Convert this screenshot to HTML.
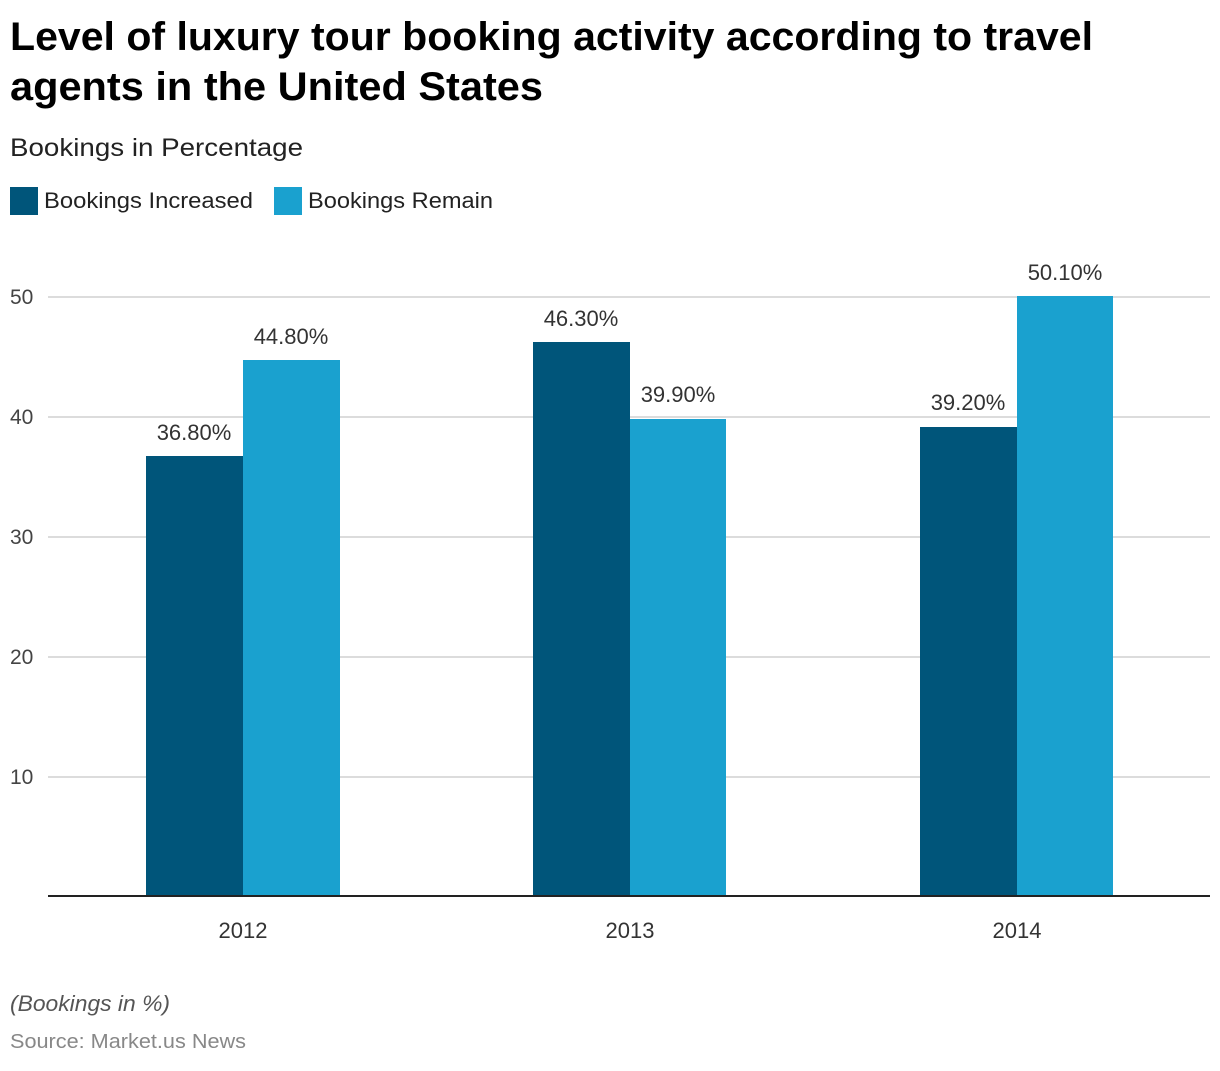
<!DOCTYPE html>
<html><head><meta charset="utf-8"><style>
body{margin:0;background:#fff;width:1220px;height:1066px;overflow:hidden;font-family:"Liberation Sans",sans-serif;}
</style></head><body>
<svg width="1220" height="1066" xmlns="http://www.w3.org/2000/svg" font-family="Liberation Sans, sans-serif">
<text x="10" y="50" font-size="40" font-weight="bold" fill="#000" textLength="1083" lengthAdjust="spacingAndGlyphs">Level of luxury tour booking activity according to travel</text>
<text x="10" y="100" font-size="40" font-weight="bold" fill="#000" textLength="533" lengthAdjust="spacingAndGlyphs">agents in the United States</text>
<text x="10" y="156" font-size="25" fill="#222" textLength="293" lengthAdjust="spacingAndGlyphs">Bookings in Percentage</text>
<rect x="10" y="187" width="28" height="28" fill="#00557a"/>
<text x="44" y="208" font-size="22" fill="#222" textLength="209" lengthAdjust="spacingAndGlyphs">Bookings Increased</text>
<rect x="274" y="187" width="28" height="28" fill="#1aa1cf"/>
<text x="308" y="208" font-size="22" fill="#222" textLength="185" lengthAdjust="spacingAndGlyphs">Bookings Remain</text>
<g stroke="#d0d0d0" stroke-width="1.5">
<line x1="48" x2="1210" y1="297" y2="297"/><line x1="48" x2="1210" y1="417" y2="417"/>
<line x1="48" x2="1210" y1="537" y2="537"/><line x1="48" x2="1210" y1="657" y2="657"/>
<line x1="48" x2="1210" y1="777" y2="777"/></g>
<g font-size="21" fill="#444">
<text x="10" y="304">50</text><text x="10" y="424">40</text><text x="10" y="544">30</text>
<text x="10" y="664">20</text><text x="10" y="784">10</text></g>
<rect x="146" y="456" width="97" height="440" fill="#00557a"/>
<rect x="243" y="360" width="97" height="536" fill="#1aa1cf"/>
<rect x="533" y="342" width="97" height="554" fill="#00557a"/>
<rect x="630" y="419" width="96" height="477" fill="#1aa1cf"/>
<rect x="920" y="427" width="97" height="469" fill="#00557a"/>
<rect x="1017" y="296" width="96" height="600" fill="#1aa1cf"/>
<line x1="48" x2="1210" y1="896" y2="896" stroke="#222" stroke-width="2"/>
<g font-size="22" fill="#333" text-anchor="middle">
<text x="194" y="440">36.80%</text><text x="291" y="344">44.80%</text>
<text x="581" y="326">46.30%</text><text x="678" y="402">39.90%</text>
<text x="968" y="410">39.20%</text><text x="1065" y="280">50.10%</text>
<text x="243" y="938">2012</text><text x="630" y="938">2013</text><text x="1017" y="938">2014</text>
</g>
<text x="10" y="1011" font-size="22" font-style="italic" fill="#555" textLength="160" lengthAdjust="spacingAndGlyphs">(Bookings in %)</text>
<text x="10" y="1048" font-size="20" fill="#888" textLength="236" lengthAdjust="spacingAndGlyphs">Source: Market.us News</text>
</svg>
</body></html>
